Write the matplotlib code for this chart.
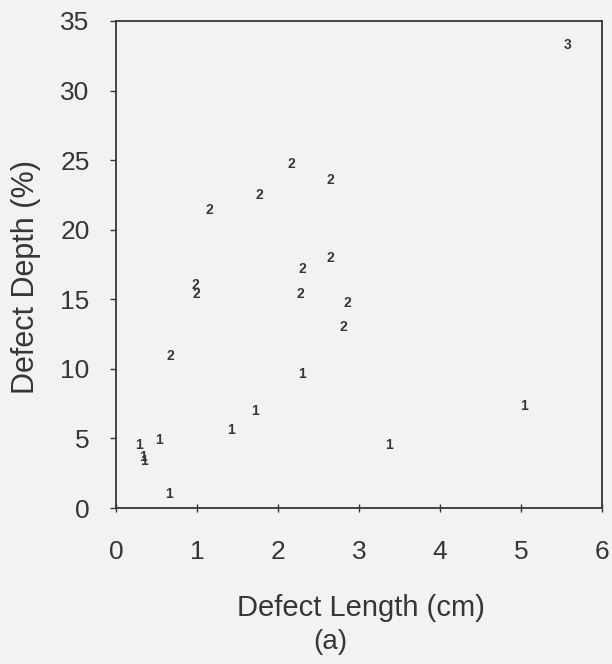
import matplotlib
matplotlib.use("Agg")
import matplotlib.pyplot as plt

plt.rcParams['font.family'] = ['Liberation Sans', 'DejaVu Sans']

# Defect measurements: length (cm), depth (%), and the group code plotted as the marker
length_cm = [5.58, 2.16, 2.64, 1.77, 1.15, 2.65, 2.30, 0.98, 0.99, 2.27, 2.86, 2.81, 0.67,
             2.30, 1.72, 1.42, 0.53, 0.28, 0.33, 0.35, 0.66, 5.04, 3.37]
depth_pct = [33.3, 24.7, 23.6, 22.5, 21.4, 18.0, 17.2, 16.0, 15.4, 15.4, 14.7, 13.0, 10.9,
             9.6, 7.0, 5.6, 4.9, 4.5, 3.7, 3.4, 1.0, 7.3, 4.5]
group = ['3', '2', '2', '2', '2', '2', '2', '2', '2', '2', '2', '2', '2',
         '1', '1', '1', '1', '1', '1', '1', '1', '1', '1']

x_ticks = [0, 1, 2, 3, 4, 5, 6]
y_ticks = [0, 5, 10, 15, 20, 25, 30, 35]

ink = '#363636'
paper = '#f2f2f0'

fig = plt.figure(figsize=(6.12, 6.64), dpi=100, facecolor=paper)
ax = fig.add_axes([0.1895, 0.2349, 0.7942, 0.7335], facecolor=paper)

for x, y, g in zip(length_cm, depth_pct, group):
    ax.text(x, y, g, ha='center', va='center', fontsize=10, fontweight='bold', color=ink)

ax.set_xlim(0, 6)
ax.set_ylim(0, 35)
ax.set_xticks(x_ticks)
ax.set_yticks(y_ticks)
ax.tick_params(axis='x', direction='inout', length=6, width=1, colors=ink,
               labelsize=19, pad=20)
ax.tick_params(axis='y', direction='out', length=4, width=1, colors=ink,
               labelsize=19, pad=15)
for s in ax.spines.values():
    s.set_color(ink)
    s.set_linewidth(1.3)

ax.set_xlabel('Defect Length (cm)', fontsize=21, color=ink)
ax.xaxis.label.set_va('center')
ax.xaxis.set_label_coords(0.505, -0.205)
ax.set_ylabel('Defect Depth (%)', fontsize=22, color=ink)
ax.yaxis.label.set_va('center')
ax.yaxis.set_label_coords(-0.185, 0.474)
fig.text(0.540, 0.033, '(a)', ha='center', va='center', fontsize=20, color=ink)

fig.savefig('out.png', dpi=100, facecolor=paper)
